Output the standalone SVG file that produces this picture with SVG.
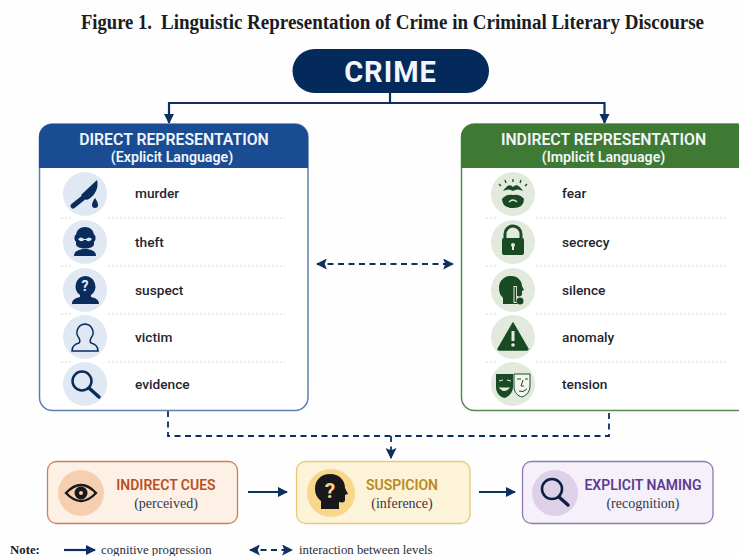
<svg xmlns="http://www.w3.org/2000/svg" width="739" height="556" viewBox="0 0 739 556">
<style>
.sans{font-family:Roboto,"Liberation Sans",sans-serif}
.serif{font-family:"Liberation Serif",serif}
.hd{font-family:Roboto,"Liberation Sans",sans-serif;font-weight:600;fill:#f1f5fa;text-anchor:middle}
.item{font-family:Roboto,"Liberation Sans",sans-serif;font-weight:500;font-size:13.700px;fill:#1f2530}
.cue{font-family:Roboto,"Liberation Sans",sans-serif;font-weight:600;font-size:14px;text-anchor:middle}
.sub{font-family:"Liberation Serif",serif;font-size:14px;fill:#33384a;text-anchor:middle}
.leg{font-family:"Liberation Serif",serif;font-size:12.800px;fill:#2a2e3a}
.solid{fill:none;stroke:#0d2f61;stroke-width:2.200}
.dash{fill:none;stroke:#0d2f61;stroke-width:1.800;stroke-dasharray:6 4.500}
.div{fill:none;stroke:#d5d8de;stroke-width:1;stroke-dasharray:2 2}
.b{fill:#0a2c5c}
.g{fill:#1a4a24}
</style>
<defs>
<marker id="ah" viewBox="0 0 10 10" refX="9" refY="5" markerWidth="11" markerHeight="11" markerUnits="userSpaceOnUse" orient="auto-start-reverse"><path d="M0 0L10 5L0 10L2 5Z" fill="#0d2f61"/></marker>
<marker id="ahb" viewBox="0 0 10 10" refX="9" refY="5" markerWidth="10" markerHeight="12" markerUnits="userSpaceOnUse" orient="auto-start-reverse"><path d="M0 0L10 5L0 10Z" fill="#0d2f61"/></marker>
</defs>
<rect width="739" height="556" fill="#fefefe"/>
<g id="title" font-family="Liberation Serif,serif" font-size="20" font-weight="700" fill="#1a1c22">
<text x="81" y="29" textLength="71" lengthAdjust="spacingAndGlyphs">Figure 1.</text>
<text x="161" y="29" textLength="543" lengthAdjust="spacingAndGlyphs">Linguistic Representation of Crime in Criminal Literary Discourse</text>
</g>

<g id="connectors">
<path class="solid" d="M390 93V103H169V123" marker-end="url(#ahb)"/>
<path class="solid" d="M390 103H604.500V123" marker-end="url(#ahb)"/>
<path class="dash" d="M317 264H453" marker-start="url(#ah)" marker-end="url(#ah)"/>
<path class="dash" d="M168 411V436H609V411"/>
<path class="dash" d="M391 436V458" marker-end="url(#ah)"/>
<path class="solid" d="M248 492H287" marker-end="url(#ahb)"/>
<path class="solid" d="M479 492H515" marker-end="url(#ahb)"/>
</g>

<g id="crime">
<rect x="292.500" y="49" width="196.500" height="44" rx="22" fill="#042a5c"/>
<text class="sans" x="390.500" y="81.500" font-size="29" font-weight="700" fill="#f4f6fa" text-anchor="middle" letter-spacing="1">CRIME</text>
</g>

<g id="direct">
<rect x="39.500" y="124" width="268.500" height="286.500" rx="13" fill="#fff" stroke="#5f7eae" stroke-width="1.500"/>
<path d="M39 168V137a13 13 0 0 1 13-13H295a13 13 0 0 1 13 13V168Z" fill="#1a4c94"/>
<text class="hd" x="174" y="145" font-size="15.800">DIRECT REPRESENTATION</text>
<text class="hd" x="172" y="161.500" font-size="14.200">(Explicit Language)</text>
<path class="div" d="M61 218H72M108 218H285M61 266H72M108 266H285M61 314H72M108 314H285M61 362H72M108 362H285"/>
</g>

<g id="murder">
<circle cx="85" cy="194" r="22" fill="#dfe8f3"/>
<path class="b" d="M97 180C99 188 95 195 89 199L86 200L81 195Z"/>
<path d="M73 206L83 198" stroke="#0a2c5c" stroke-width="5" stroke-linecap="round"/>
<path class="b" d="M95 198C93 201 92 203 92 205a3 3 0 0 0 6 0C98 203 97 201 95 198Z"/>
<text class="item" x="135" y="198">murder</text>
</g>
<g id="theft">
<circle cx="85" cy="242" r="22" fill="#dfe8f3"/>
<path class="b" d="M76 236C76 224 94 224 94 236V244C94 250 76 250 76 244Z"/>
<rect x="74.500" y="234" width="21" height="8" rx="3.500" fill="#0a2c5c"/>
<path d="M78 239Q81 236 84 239H86Q89 236 92 239Q89 243 86 240H84Q81 243 78 239Z" fill="#dfe8f3"/>
<path class="b" d="M74 256C74 251 79 249 85 249S96 251 96 256Z"/>
<text class="item" x="135" y="246.500">theft</text>
</g>
<g id="suspect">
<circle cx="85" cy="290" r="22" fill="#dfe8f3"/>
<path class="b" d="M85 276a10.500 10.500 0 0 1 6 19v2c5 1 8 3 8 7H72c0-4 3-6 8-7v-2a10.500 10.500 0 0 1 5-19Z"/>
<text x="85" y="291" font-family="Roboto,sans-serif" font-size="14" font-weight="700" fill="#e8eef6" text-anchor="middle">?</text>
<text class="item" x="135" y="295">suspect</text>
</g>
<g id="victim">
<circle cx="85" cy="337" r="22" fill="#dfe8f3"/>
<path d="M85 324a8.500 8.500 0 0 1 6 14c-1 2-1 4 0 5 4 1 7 3 7 8H72c0-5 3-7 7-8 1-1 1-3 0-5a8.500 8.500 0 0 1 6-14Z" fill="none" stroke="#0a2c5c" stroke-width="1.500"/>
<text class="item" x="135" y="342">victim</text>
</g>
<g id="evidence">
<circle cx="85" cy="384" r="22" fill="#dfe8f3"/>
<circle cx="82" cy="381" r="9.500" fill="none" stroke="#0a2c5c" stroke-width="2.500"/>
<path d="M89 388L99 397" stroke="#0a2c5c" stroke-width="3.500" stroke-linecap="round"/>
<text class="item" x="135" y="389">evidence</text>
</g>

<g id="indirect">
<rect x="461.500" y="124" width="290" height="286.500" rx="13" fill="#fff" stroke="#568a50" stroke-width="1.500"/>
<path d="M461 168V137a13 13 0 0 1 13-13H739V168Z" fill="#3f7a35"/>
<text class="hd" x="603.500" y="145" font-size="15.800">INDIRECT REPRESENTATION</text>
<text class="hd" x="603.500" y="161.500" font-size="14.200">(Implicit Language)</text>
<path class="div" d="M486 218H497M536 218H726M486 266H497M536 266H726M486 314H497M536 314H726M486 362H497M536 362H726"/>
</g>

<g id="fear">
<circle cx="513" cy="194" r="22" fill="#e1eadd"/>
<path class="g" d="M503 191Q509 182 513 187Q517 182 523 191Q517 188 513 191Q509 188 503 191Z"/>
<path class="g" d="M502 199Q506 194 513 195Q520 194 524 199Q524 208 513 208Q502 208 502 199Z"/>
<path d="M509 202Q513 198 517 202" fill="none" stroke="#e1eadd" stroke-width="1.200"/>
<path d="M513 179V182M505 180L506 183M521 180L520 183M499 184L501 186M527 184L525 186" stroke="#1a4a24" stroke-width="1.300"/>
<text class="item" x="562" y="198">fear</text>
</g>
<g id="secrecy">
<circle cx="513" cy="242" r="22" fill="#e1eadd"/>
<path d="M505 239V234a8 8 0 0 1 16 0V239" fill="none" stroke="#1a4a24" stroke-width="3"/>
<rect x="502" y="238" width="22" height="17" rx="2" fill="#1a4a24"/>
<circle cx="513" cy="245" r="2" fill="#e1eadd"/><rect x="512" y="245" width="2" height="5" fill="#e1eadd"/>
<text class="item" x="562" y="246.500">secrecy</text>
</g>
<g id="silence">
<circle cx="513" cy="290" r="22" fill="#e1eadd"/>
<path class="g" d="M511 276c7 0 11 5 11 10l2 4-2 1v3c0 2-2 3-5 2v8H503v-6c-3-3-4-6-4-10 0-7 5-12 12-12Z"/>
<rect x="513.500" y="286" width="3.500" height="17" fill="#e1eadd"/>
<rect x="514.500" y="287" width="1.600" height="15" fill="#1a4a24"/>
<circle cx="520" cy="301" r="3.500" fill="#1a4a24"/>
<text class="item" x="562" y="295">silence</text>
</g>
<g id="anomaly">
<circle cx="513" cy="337" r="22" fill="#e1eadd"/>
<path class="g" d="M513 323L528 349a1 1 0 0 1-1 1H499a1 1 0 0 1-1-1Z" stroke="#1a4a24" stroke-width="1.500" stroke-linejoin="round"/>
<rect x="511.500" y="331" width="3" height="10" fill="#e1eadd"/><circle cx="513" cy="345" r="1.800" fill="#e1eadd"/>
<text class="item" x="562" y="342">anomaly</text>
</g>
<g id="tension">
<circle cx="513" cy="384" r="22" fill="#e1eadd"/>
<path d="M514 374H530V386C530 393 525 396 522 397C518 396 514 393 514 386Z" fill="#f2f5f0" stroke="#1a4a24" stroke-width="1"/>
<path d="M517 379H521M525 379H528M523 380L521 386H524M519 391Q523 393 527 389" fill="none" stroke="#1a4a24" stroke-width="1"/>
<path class="g" d="M496 374H513V387C513 393 508 397 504.500 398C500 397 496 393 496 387Z"/>
<path d="M499 381L503 380M507 380L511 381M500 388Q505 393 509 388Z" fill="#e1eadd" stroke="#e1eadd" stroke-width="1.200"/>
<text class="item" x="562" y="389">tension</text>
</g>

<g id="cues">
<rect x="47.500" y="461.500" width="190" height="62" rx="9" fill="#fdf0e5" stroke="#cf7f58" stroke-width="1.300"/>
<circle cx="81" cy="493" r="23" fill="#f6cfb0"/>
<path d="M66 493Q81 477 96 493Q81 509 66 493Z" fill="none" stroke="#17171c" stroke-width="2.400"/>
<circle cx="81" cy="493" r="6.500" fill="#17171c"/><circle cx="81" cy="493" r="2" fill="#f6cfb0"/>
<text class="cue" x="166" y="490" fill="#b94f25">INDIRECT CUES</text>
<text class="sub" x="166" y="508">(perceived)</text>
</g>
<g id="suspicion">
<rect x="296.500" y="461.500" width="173.500" height="62" rx="9" fill="#fdf3d9" stroke="#e9c878" stroke-width="1.300"/>
<circle cx="331" cy="493" r="24" fill="#f8d68a"/>
<path d="M330 474c10 0 15 7 15 14l3 6-3 1v5c0 2-2 3-6 2v7H321v-8c-4-3-6-7-6-12 0-9 6-15 15-15Z" fill="#17171c"/>
<text x="330" y="498" font-family="Roboto,sans-serif" font-size="21" font-weight="700" fill="#f8d68a" text-anchor="middle">?</text>
<text class="cue" x="402" y="490" fill="#b88a1e">SUSPICION</text>
<text class="sub" x="402" y="508">(inference)</text>
</g>
<g id="naming">
<rect x="522.500" y="461.500" width="190.500" height="62" rx="9" fill="#f5f0fa" stroke="#9277b5" stroke-width="1.300"/>
<circle cx="555" cy="493" r="23" fill="#dfd0ea"/>
<circle cx="552" cy="489" r="10" fill="none" stroke="#0d1f42" stroke-width="2.600"/>
<path d="M559 497L568 505" stroke="#0d1f42" stroke-width="3.400" stroke-linecap="round"/>
<text class="cue" x="643" y="490" fill="#5f3a92">EXPLICIT NAMING</text>
<text class="sub" x="643" y="508">(recognition)</text>
</g>

<g id="legend">
<text class="serif" x="10" y="554" font-size="12.800" font-weight="700" fill="#1a1c22">Note:</text>
<path class="solid" d="M64 550H95" marker-end="url(#ahb)"/>
<text class="leg" x="101" y="554">cognitive progression</text>
<path class="dash" d="M250 550H292" stroke-dasharray="5 3.500" marker-start="url(#ah)" marker-end="url(#ah)"/>
<text class="leg" x="299" y="554">interaction between levels</text>
</g>
</svg>
